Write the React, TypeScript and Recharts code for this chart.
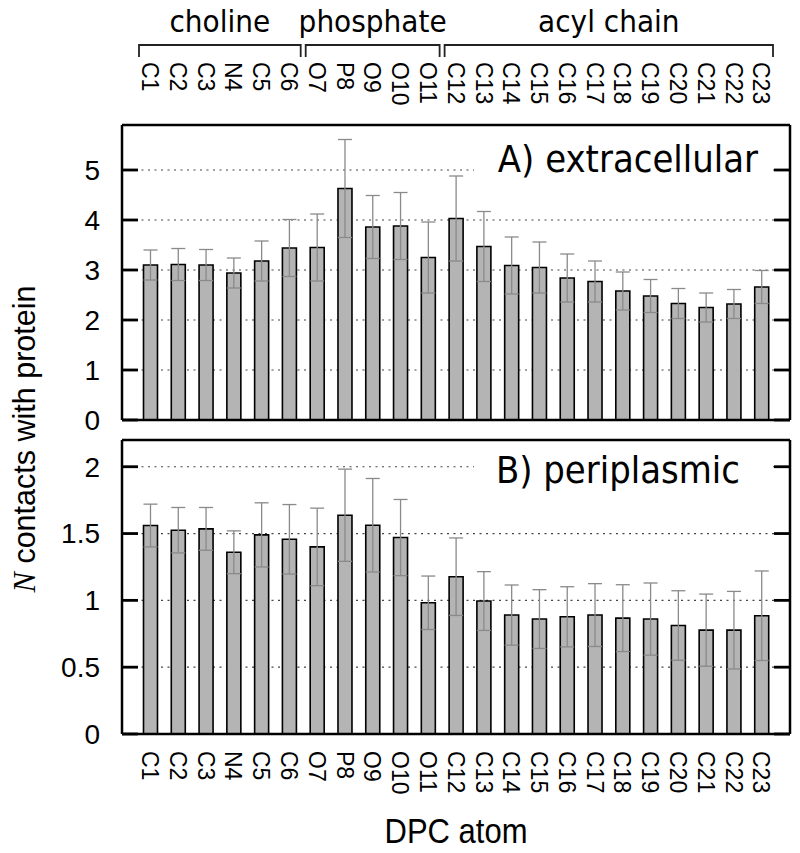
import React from 'react';
import { BarChart, Bar, XAxis, YAxis, CartesianGrid, ErrorBar } from 'recharts';

const atoms = ['C1','C2','C3','N4','C5','C6','O7','P8','O9','O10','O11','C12','C13','C14','C15','C16','C17','C18','C19','C20','C21','C22','C23'];
const extraVals = [3.10,3.11,3.10,2.94,3.18,3.44,3.45,4.63,3.86,3.88,3.25,4.03,3.47,3.09,3.05,2.84,2.77,2.58,2.48,2.33,2.25,2.32,2.66];
const extraErrs = [0.30,0.32,0.31,0.30,0.40,0.57,0.67,0.98,0.63,0.67,0.71,0.85,0.70,0.57,0.51,0.48,0.41,0.38,0.33,0.30,0.29,0.29,0.33];
const periVals = [1.56,1.525,1.535,1.36,1.49,1.457,1.40,1.637,1.562,1.47,0.982,1.177,0.995,0.89,0.86,0.877,0.89,0.867,0.86,0.812,0.777,0.777,0.885];
const periErrs = [0.16,0.17,0.16,0.16,0.24,0.26,0.29,0.345,0.35,0.285,0.20,0.29,0.22,0.225,0.22,0.225,0.235,0.25,0.27,0.26,0.27,0.29,0.335];
const extraTicks = [0,1,2,3,4,5];
const periTicks = [0,0.5,1,1.5,2];
const extraMax = 5.9;
const periMax = 2.2;
const groupLabels = ['choline','phosphate','acyl chain'];
const groupStart = [0,6,11];
const groupEnd = [5,10,22];

const dataA = atoms.map((a, i) => ({ atom: a, v: extraVals[i], e: extraErrs[i] }));
const dataB = atoms.map((a, i) => ({ atom: a, v: periVals[i], e: periErrs[i] }));

const W = 800;
const PLOT_L = 122;
const PLOT_R = 790;
const PLOT_W = PLOT_R - PLOT_L;
const PAD = 14.5;
const BAND = (PLOT_W - 2 * PAD) / atoms.length;
const A_TOP = 125, A_BOT = 420, B_TOP = 440, B_BOT = 734;
const SANS = 'Liberation Sans, Arial, sans-serif';
const DEJA = 'DejaVu Sans, sans-serif';
const FRAME = { stroke: '#000', strokeWidth: 2.5 };
const TICK_LEN = 16;

const RotTick = (props: any) => {
  const { x, y, payload } = props;
  return (
    <text x={x} y={y} transform={`rotate(90 ${x} ${y})`} textAnchor="start" dy="0.36em"
      fontSize={23} fontFamily={SANS} fill="#000">{payload.value}</text>
  );
};

const yTickStyle = { fill: '#000', fontSize: 28, fontFamily: SANS };

function StretchText(props: { x: number; y: number; sy: number; anchor: string; size: number; family: string; children: any }) {
  const { x, y, sy, anchor, size, family, children } = props;
  return (
    <text transform={`translate(${x},${y}) scale(1,${sy})`} x={0} y={0} textAnchor={anchor as any}
      fontSize={size} fontFamily={family} fill="#000">{children}</text>
  );
}

function InwardTicks(props: { ticks: number[]; max: number; top: number; bot: number }) {
  const { ticks, max, top, bot } = props;
  return (
    <g>
      {ticks.map((t) => {
        const y = bot - (t / max) * (bot - top);
        return (
          <g key={t}>
            <rect x={PLOT_L} y={y - 1.4} width={TICK_LEN} height={2.8} fill="#000" />
            <rect x={PLOT_R - TICK_LEN} y={y - 1.4} width={TICK_LEN} height={2.8} fill="#000" />
          </g>
        );
      })}
    </g>
  );
}

function Panel(props: { data: any[]; domain: number[]; ticks: number[]; height: number; top: number; mTop: number; mBot: number; topH: number; botH: number; topLabels: boolean; botLabels: boolean; }) {
  const { data, domain, ticks, height, top, mTop, mBot, topH, botH, topLabels, botLabels } = props;
  return (
    <div style={{ position: 'absolute', left: 0, top }}>
      <BarChart width={W} height={height} data={data} margin={{ top: mTop, right: 0, left: 0, bottom: mBot }}>
        <CartesianGrid vertical={false} xAxisId="bot" yAxisId="L" stroke="#444" strokeDasharray="2 4.5" strokeWidth={1.2} />
        <XAxis xAxisId="top" orientation="top" dataKey="atom" height={topH} interval={0}
          padding={{ left: PAD, right: PAD }} tickLine={false} tickSize={0} tickMargin={63}
          axisLine={FRAME} tick={topLabels ? <RotTick /> : false} />
        <XAxis xAxisId="bot" orientation="bottom" dataKey="atom" height={botH} interval={0}
          padding={{ left: PAD, right: PAD }} tickLine={false} tickSize={0} tickMargin={17}
          axisLine={FRAME} tick={botLabels ? <RotTick /> : false} />
        <YAxis yAxisId="L" orientation="left" width={PLOT_L} domain={domain} ticks={ticks} type="number" interval={0}
          allowDataOverflow tickLine={false} tickSize={0} tickMargin={22} axisLine={FRAME} tick={yTickStyle} />
        <YAxis yAxisId="R" orientation="right" width={W - PLOT_R} domain={domain} ticks={ticks} type="number"
          allowDataOverflow tick={false} tickLine={false} axisLine={FRAME} />
        <Bar dataKey="v" xAxisId="bot" yAxisId="L" fill="#b4b4b4" stroke="#000" strokeWidth={1.6}
          barSize={14} isAnimationActive={false}>
          <ErrorBar dataKey="e" width={7} stroke="#8a8a8a" strokeWidth={1.3} isAnimationActive={false} />
        </Bar>
      </BarChart>
    </div>
  );
}

export default function App() {
  return (
    <div style={{ position: 'absolute', left: 0, top: 0, width: W, height: 853, background: '#fff', overflow: 'hidden' }}>
      <Panel data={dataA} domain={[0, extraMax]} ticks={extraTicks} height={445} top={0} mTop={A_TOP - 65} mBot={445 - A_BOT - 10} topH={65} botH={10} topLabels botLabels={false} />
      <Panel data={dataB} domain={[0, periMax]} ticks={periTicks} height={423} top={430} mTop={B_TOP - 430 - 5} mBot={0} topH={5} botH={853 - B_BOT} topLabels={false} botLabels />
      <svg width={W} height={853} style={{ position: 'absolute', left: 0, top: 0, pointerEvents: 'none' }}>
        <InwardTicks ticks={extraTicks} max={extraMax} top={A_TOP} bot={A_BOT} />
        <InwardTicks ticks={periTicks} max={periMax} top={B_TOP} bot={B_BOT} />
        {groupLabels.map((g, i) => {
          const x1 = PLOT_L + PAD + groupStart[i] * BAND + 2.5;
          const x2 = PLOT_L + PAD + (groupEnd[i] + 1) * BAND - 2.5;
          return (
            <g key={g}>
              <path d={`M${x1},57 L${x1},45 L${x2},45 L${x2},57`} fill="none" stroke="#222" strokeWidth={1.8} />
              <StretchText x={(x1 + x2) / 2} y={32} sy={1.1} anchor="middle" size={28} family={DEJA}>{g}</StretchText>
            </g>
          );
        })}
        <rect x={474} y={133} width={299} height={52} fill="#fff" />
        <StretchText x={758} y={172} sy={1.08} anchor="end" size={34} family={DEJA}>A) extracellular</StretchText>
        <rect x={474} y={446} width={299} height={46} fill="#fff" />
        <StretchText x={740} y={483} sy={1.08} anchor="end" size={34} family={DEJA}>B) periplasmic</StretchText>
        <text x={24} y={439} transform="rotate(-90 24 439)" textAnchor="middle" dy="0.35em" fontSize={30.5} fontFamily={SANS} fill="#000">
          <tspan fontFamily="Liberation Serif, serif" fontStyle="italic">N</tspan> contacts with protein
        </text>
        <StretchText x={456} y={843} sy={1.15} anchor="middle" size={31} family={SANS}>DPC atom</StretchText>
      </svg>
    </div>
  );
}
